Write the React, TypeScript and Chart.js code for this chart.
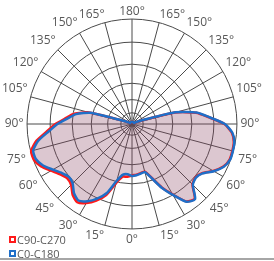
import React, { useEffect, useRef } from 'react';
import { Chart, registerables } from 'chart.js';

Chart.register(...registerables);

// Vertical angle (gamma) categories, 0° = straight down, 180° = straight up
const gammas = [0, 5, 10, 15, 20, 25, 30, 35, 40, 45, 50, 55, 60, 65, 70, 75, 80, 85, 90,
  95, 100, 105, 110, 115, 120, 125, 130, 135, 140, 145, 150, 155, 160, 165, 170, 175, 180];

// Relative intensity (% of outer ring), right half (C0 / C90) and left half (C180 / C270)
const blueRight = [49.5, 49, 48, 47.5, 55, 67, 78, 90.5, 93.5, 82, 79.5, 82, 90, 96.5, 99.5, 99.5, 99, 96, 88.5,
  74, 62.5, 43, 11, 4, 2, 2, 2, 2, 2, 2, 2, 2, 2, 2, 2, 2, 2];
const blueLeft = [47.5, 48, 49, 56, 70, 78.5, 85, 89, 86, 80, 78.5, 81.5, 87, 93.5, 97.5, 97.5, 90.5, 79.5, 71,
  61.5, 54, 41, 9, 4, 2, 2, 2, 2, 2, 2, 2, 2, 2, 2, 2, 2, 2];
const redRight = [49, 48.5, 47.5, 47, 54.5, 66.5, 77.5, 90, 93, 81.5, 79, 81.5, 89.5, 96, 99, 99, 98.5, 95.5, 88,
  73.5, 62, 42.5, 10.5, 4, 2, 2, 2, 2, 2, 2, 2, 2, 2, 2, 2, 2, 2];
const redLeft = [50, 50.5, 51, 58, 72, 80.5, 87, 91, 88, 82, 80.5, 83.5, 89, 95.5, 99.5, 99.5, 92.5, 81.5, 73,
  63.5, 56, 42.5, 9.5, 4, 2, 2, 2, 2, 2, 2, 2, 2, 2, 2, 2, 2, 2];

// Concentric ring values
const ringValues = [0, 10.7, 23.2, 38.8, 57, 78, 100];

const seriesNames = ['C90-C270', 'C0-C180'];
const seriesColors = ['#ff1a1a', '#1f6fc8'];
const labelStep = 15;

// radar runs clockwise from the top: right half 180..0, then left half 5..175
const radarGammas = [...gammas.slice().reverse(), ...gammas.slice(1, gammas.length - 1)];
const toRadar = (right: number[], left: number[]) => [
  ...right.slice().reverse(),
  ...left.slice(1, left.length - 1),
];
const radarLabels = radarGammas.map((g) => (g % labelStep === 0 ? `${g}°` : ''));

const labelPad: Record<number, number> = {
  0: 3.6, 15: 3, 30: 4, 45: 5, 60: 4, 75: 5, 90: 3.5, 105: 3, 120: 3, 135: 3, 150: 4, 165: 1, 180: 0,
};

const gridColor = '#4a4a4a';

export default function App() {
  const ref = useRef<HTMLCanvasElement | null>(null);

  useEffect(() => {
    if (!ref.current) return;
    const chart = new Chart(ref.current, {
      type: 'radar',
      data: {
        labels: radarLabels,
        datasets: [
          {
            label: seriesNames[1],
            data: toRadar(blueRight, blueLeft),
            borderColor: seriesColors[1],
            borderWidth: 2.5,
            fill: false,
            pointRadius: 0,
          },
          {
            label: seriesNames[0],
            data: toRadar(redRight, redLeft),
            borderColor: seriesColors[0],
            borderWidth: 2.5,
            backgroundColor: 'rgba(140,70,100,0.3)',
            fill: true,
            pointRadius: 0,
          },
        ],
      },
      options: {
        responsive: false,
        animation: false,
        layout: { padding: { left: 2, right: 12, top: 1, bottom: 10 } },
        plugins: { legend: { display: false }, tooltip: { enabled: false } },
        elements: { point: { radius: 0 }, line: { tension: 0.2 } },
        scales: {
          r: {
            min: 0,
            max: 100,
            afterBuildTicks: (s: any) => {
              s.ticks = ringValues.map((v) => ({ value: v }));
            },
            ticks: { display: false },
            grid: { circular: true, color: gridColor, lineWidth: 1 },
            angleLines: {
              color: gridColor,
              lineWidth: (ctx: any) => (radarGammas[ctx.index] % labelStep === 0 ? 1 : 0),
            },
            pointLabels: {
              font: { family: 'Open Sans', size: 12 },
              color: '#595959',
              padding: (ctx: any) => labelPad[radarGammas[ctx.index]] ?? 0,
            },
          },
        },
      },
    } as any);
    return () => chart.destroy();
  }, []);

  const legendItem = (name: string, color: string, top: number) => (
    <div
      key={name}
      style={{
        position: 'absolute', left: 9, top, height: 16, display: 'flex', alignItems: 'center',
        fontFamily: 'Open Sans', fontSize: 11, color: '#595959', whiteSpace: 'nowrap',
      }}
    >
      <span style={{ width: 7, height: 7, boxSizing: 'border-box', border: `2px solid ${color}`, background: '#fff', marginRight: 1 }} />
      <span>{name}</span>
    </div>
  );

  return (
    <div style={{ position: 'fixed', left: 0, top: 0, width: 274, height: 261, background: '#fff', overflow: 'hidden' }}>
      <canvas ref={ref} width={274} height={261} style={{ position: 'absolute', left: 0, top: 0, width: 274, height: 261 }} />
      {legendItem(seriesNames[0], seriesColors[0], 231)}
      {legendItem(seriesNames[1], seriesColors[1], 245)}
      <div style={{ position: 'absolute', left: 0, top: 258, width: 274, height: 2, background: '#a6a6a6' }} />
    </div>
  );
}
